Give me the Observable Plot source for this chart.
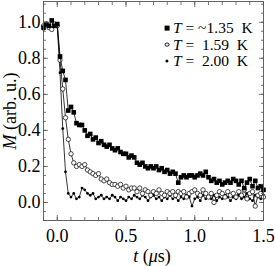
<!DOCTYPE html>
<html><head><meta charset="utf-8">
<script src="https://cdn.jsdelivr.net/npm/d3@7"></script>
<script src="https://cdn.jsdelivr.net/npm/@observablehq/plot@0.6"></script>
<style>
body{margin:0;background:#fff;}
#wrap{position:relative;width:275px;height:266px;font-family:"Liberation Serif","Times New Roman",serif;color:#000;}
.lab{position:absolute;font-size:18px;white-space:pre;line-height:1;}
.row{position:absolute;left:167px;height:16px;font-size:15.5px;white-space:pre;line-height:16px;}
.sw{position:absolute;left:0;top:50%;transform:translate(-50%,-50%);box-sizing:border-box;}
.row span.t{position:absolute;left:6px;top:0;}
</style></head><body><div id="wrap"></div>
<script>
const times = [-0.10,-0.08,-0.06,-0.04,-0.02,0.00,0.02,0.04,0.06,0.08,0.10,0.12,0.14,0.16,0.18,0.20,0.22,0.24,0.26,0.28,0.30,0.32,0.34,0.36,0.38,0.40,0.42,0.44,0.46,0.48,0.50,0.52,0.54,0.56,0.58,0.60,0.62,0.64,0.66,0.68,0.70,0.72,0.74,0.76,0.78,0.80,0.82,0.84,0.86,0.88,0.90,0.92,0.94,0.96,0.98,1.00,1.02,1.04,1.06,1.08,1.10,1.12,1.14,1.16,1.18,1.20,1.22,1.24,1.26,1.28,1.30,1.32,1.34,1.36,1.38,1.40,1.42,1.44,1.46,1.48,1.50];
const m135 = [0.97,0.99,0.98,1.01,0.98,0.99,0.81,0.73,0.68,0.51,0.53,0.50,0.44,0.43,0.43,0.40,0.37,0.38,0.35,0.36,0.33,0.34,0.32,0.31,0.32,0.30,0.29,0.30,0.28,0.27,0.27,0.25,0.26,0.25,0.22,0.21,0.22,0.20,0.19,0.20,0.19,0.20,0.18,0.19,0.17,0.18,0.16,0.17,0.16,0.11,0.14,0.15,0.14,0.15,0.15,0.14,0.15,0.16,0.15,0.17,0.14,0.12,0.13,0.11,0.12,0.10,0.11,0.12,0.11,0.13,0.12,0.10,0.12,0.08,0.11,0.13,0.09,0.12,0.08,0.09,0.07];
const m159 = [0.98,0.99,0.97,0.96,0.99,0.98,0.79,0.63,0.47,0.35,0.27,0.22,0.20,0.21,0.20,0.21,0.18,0.17,0.16,0.15,0.16,0.13,0.12,0.13,0.11,0.10,0.10,0.09,0.10,0.08,0.09,0.07,0.08,0.08,0.06,0.08,0.05,0.07,0.06,0.04,0.06,0.05,0.07,0.05,0.04,0.06,0.05,0.06,0.04,0.06,0.05,0.06,0.03,0.05,0.06,0.07,0.05,0.04,0.07,0.05,0.03,0.05,0.00,0.04,0.06,0.05,0.03,0.06,0.04,0.05,0.03,0.06,0.04,0.07,0.02,0.05,0.06,-0.02,0.04,0.05,0.03];
const m200 = [0.96,0.99,0.98,0.97,0.99,0.98,0.72,0.41,0.17,0.05,0.03,0.05,0.02,0.03,0.08,0.07,0.05,0.04,0.05,0.02,0.03,0.04,0.02,0.03,0.02,0.04,0.03,0.01,0.03,0.02,0.01,0.03,0.02,0.04,0.03,0.02,0.04,0.03,0.01,0.03,0.04,0.02,0.03,0.01,0.03,0.02,0.04,0.02,0.03,0.01,0.03,0.02,0.04,0.03,-0.02,0.02,0.03,0.01,0.04,0.02,0.03,0.02,0.04,0.01,0.03,0.02,0.04,0.03,0.01,0.03,0.02,0.04,0.02,0.03,0.05,0.02,0.01,0.04,0.03,0.02,0.04];
const legendLabels = ["~1.35", " 1.59", " 2.00"];
const xTicks = [0, 0.5, 1.0, 1.5];
const yTicks = [0, 0.2, 0.4, 0.6, 0.8, 1.0];
const xMinor = [-0.1,0,0.1,0.2,0.3,0.4,0.5,0.6,0.7,0.8,0.9,1.0,1.1,1.2,1.3,1.4,1.5];
const yMinor = [-0.1,-0.05,0,0.05,0.1,0.15,0.2,0.25,0.3,0.35,0.4,0.45,0.5,0.55,0.6,0.65,0.7,0.75,0.8,0.85,0.9,0.95,1.0,1.05,1.1];

const rows = vals => times.map((t, i) => ({t, m: vals[i]}));
const A = rows(m135), B = rows(m159), C = rows(m200);
const axc = "#555";
const tickOpts = (size) => ({tickSize: size, fill: "none", label: null, stroke: axc, strokeWidth: 0.8});
const plot = Plot.plot({
  width: 275, height: 266,
  marginLeft: 43, marginRight: 12, marginTop: 1, marginBottom: 46,
  style: {fontFamily: "Liberation Serif, Times New Roman, serif", fontSize: "18px", background: "white", color: "black"},
  x: {domain: [-0.1, 1.5]},
  y: {domain: [-0.1, 1.115]},
  marks: [
    Plot.line(C, {x: "t", y: "m", stroke: "#000", strokeWidth: 0.8}),
    Plot.dot(C, {x: "t", y: "m", r: 1.4, fill: "#000"}),
    Plot.line(B, {x: "t", y: "m", stroke: "#000", strokeWidth: 0.8}),
    Plot.dot(B, {x: "t", y: "m", r: 2.2, fill: "white", stroke: "#000", strokeWidth: 0.7}),
    Plot.line(A, {x: "t", y: "m", stroke: "#000", strokeWidth: 0.8}),
    Plot.dot(A, {x: "t", y: "m", r: 2.6, symbol: "square", fill: "#000"}),
    Plot.axisX(xMinor, {anchor: "bottom", ...tickOpts(-3)}),
    Plot.axisX(xTicks, {anchor: "bottom", ...tickOpts(-5)}),
    Plot.axisX(xMinor, {anchor: "top", ...tickOpts(-3)}),
    Plot.axisX(xTicks, {anchor: "top", ...tickOpts(-5)}),
    Plot.axisY(yMinor, {anchor: "left", ...tickOpts(-3)}),
    Plot.axisY(yTicks, {anchor: "left", ...tickOpts(-5)}),
    Plot.axisY(yMinor, {anchor: "right", ...tickOpts(-3)}),
    Plot.axisY(yTicks, {anchor: "right", ...tickOpts(-5)}),
    Plot.axisX(xTicks, {anchor: "bottom", tickSize: 0, tickPadding: 9, tickFormat: ".1f", label: null, fontSize: 18, fill: "#000"}),
    Plot.axisY(yTicks, {anchor: "left", tickSize: 0, tickPadding: 3, tickFormat: ".1f", label: null, fontSize: 18, fill: "#000"}),
    Plot.frame({stroke: axc, strokeWidth: 0.9})
  ]
});
const wrap = document.getElementById("wrap");
wrap.appendChild(plot);

// axis labels
const yl = document.createElement("div");
yl.className = "lab";
yl.style.left = "10px"; yl.style.top = "111px";
yl.style.transform = "translate(-50%,-50%) rotate(-90deg)";
yl.innerHTML = "<i>M</i> (arb. u.)";
wrap.appendChild(yl);
const xl = document.createElement("div");
xl.className = "lab";
xl.style.left = "152px"; xl.style.top = "256px";
xl.style.transform = "translate(-50%,-50%)";
xl.innerHTML = "<i>t</i> (<i>μ</i>s)";
wrap.appendChild(xl);

// legend
const swatches = [
  "width:4.8px;height:4.8px;background:#000;",
  "width:4.8px;height:4.8px;border:0.8px solid #000;border-radius:50%;background:#fff;",
  "width:3.2px;height:3.2px;background:#000;border-radius:50%;"
];
legendLabels.forEach((lab, i) => {
  const r = document.createElement("div");
  r.className = "row";
  r.style.top = (20 + i * 16.5) + "px";
  r.innerHTML = `<div class="sw" style="${swatches[i]}"></div><span class="t"><i>T</i> = ${lab}  K</span>`;
  wrap.appendChild(r);
});
</script></body></html>
